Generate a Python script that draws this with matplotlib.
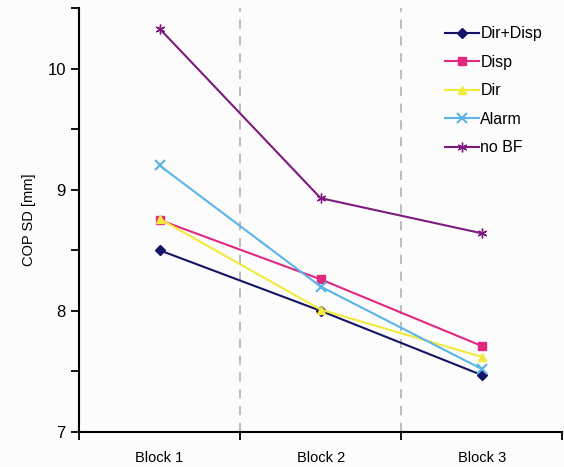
import numpy as np
import matplotlib.pyplot as plt

plt.rcParams["font.family"] = ["Liberation Sans", "DejaVu Sans"]

# Data
blocks = ["Block 1", "Block 2", "Block 3"]
dir_disp = [8.50, 8.00, 7.47]
disp = [8.75, 8.26, 7.71]
dir_only = [8.76, 8.01, 7.62]
alarm = [9.20, 8.20, 7.52]
no_bf = [10.33, 8.93, 8.64]

series = [
    ("Dir+Disp", dir_disp, "#141466", "D", 5),
    ("Disp", disp, "#e0287f", "s", 5.5),
    ("Dir", dir_only, "#f2ea3a", "^", 6),
    ("Alarm", alarm, "#5ab4e6", "x", 6.5),
    ("no BF", no_bf, "#7d1a7d", (6, 2, 0), 7),
]

fig = plt.figure(figsize=(5.64, 4.67), dpi=100)
fig.patch.set_facecolor("#fcfcfc")
ax = fig.add_axes([0.14, 0.075, 0.857, 0.908])
ax.set_facecolor("#fcfcfc")

x = np.arange(len(blocks))
for name, vals, col, mk, ms in series:
    ax.plot(x, vals, color=col, marker=mk, markersize=ms, linewidth=1.5,
            markeredgewidth=1.5 if mk == "x" else 1.0, label=name)

# separators between blocks
for b in [0.5, 1.5]:
    ax.axvline(b, color="#aaaaaa", linestyle=(0, (6, 5)), linewidth=1.1, zorder=0)

ax.set_xlim(-0.5, 2.5)
ax.set_ylim(7, 10.5)
ax.set_xticks(x)
ax.set_xticklabels(blocks, fontsize=10.5)
ax.tick_params(axis="x", which="major", length=0, pad=14)
ax.set_xticks([-0.5, 0.5, 1.5, 2.5], minor=True)
ax.tick_params(axis="x", which="minor", length=6, width=1.3, direction="out")

ax.set_yticks([7, 8, 9, 10])
ax.set_yticks([7.5, 8.5, 9.5, 10.5], minor=True)
ax.tick_params(axis="y", which="both", length=6, width=1.3, direction="out", labelsize=12)
ax.set_ylabel("COP SD [mm]", fontsize=10.5, labelpad=8)

for s in ["top", "right"]:
    ax.spines[s].set_visible(False)
for s in ["left", "bottom"]:
    ax.spines[s].set_linewidth(1.5)

fig.legend(*ax.get_legend_handles_labels(), loc="upper left",
           bbox_to_anchor=(0.789, 0.944), frameon=False, fontsize=11.5,
           borderpad=0, borderaxespad=0,
           handlelength=2.1, handletextpad=0.12, labelspacing=0.85)

fig.savefig("out.png", dpi=100, facecolor=fig.get_facecolor())
